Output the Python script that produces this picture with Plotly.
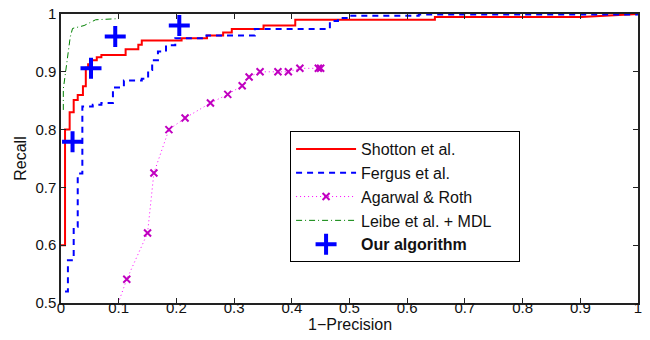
import plotly.graph_objects as go

# ---------------- data ----------------
# Shotton et al. : step curve, x where level starts, new recall level
shotton_x = [0, 0.007, 0.015, 0.022, 0.029, 0.038, 0.043, 0.047, 0.053, 0.062, 0.07,
             0.112, 0.134, 0.14, 0.209, 0.253, 0.281, 0.296, 0.351, 0.406, 0.648, 0.902]
shotton_y = [0.6, 0.8, 0.83, 0.851, 0.86, 0.875, 0.907, 0.913, 0.92, 0.925, 0.929,
             0.939, 0.947, 0.954, 0.958, 0.963, 0.968, 0.974, 0.98, 0.99, 0.995, 0.995]
shotton_end_x = [1.0]
shotton_end_y = [1.0]

# Fergus et al. : step curve
fergus_x = [0.007, 0.012, 0.022, 0.029, 0.037, 0.055, 0.07, 0.09, 0.109, 0.14, 0.151,
            0.158, 0.168, 0.182, 0.198, 0.252, 0.336, 0.466, 0.48, 0.5, 0.62, 1.0]
fergus_y = [0.52, 0.574, 0.632, 0.724, 0.84, 0.843, 0.846, 0.873, 0.885, 0.888, 0.903,
            0.92, 0.935, 0.946, 0.958, 0.963, 0.974, 0.988, 0.993, 0.997, 0.999, 1.0]

# Agarwal & Roth
agarwal_x = [0.092, 0.114, 0.150, 0.161, 0.187, 0.215, 0.259, 0.289, 0.314, 0.326,
             0.345, 0.376, 0.394, 0.414, 0.446, 0.450]
agarwal_y = [0.48, 0.541, 0.621, 0.725, 0.800, 0.820, 0.846, 0.861, 0.876, 0.891,
             0.900, 0.900, 0.900, 0.906, 0.906, 0.906]

# Leibe et al. + MDL
leibe_x = [0.004, 0.004, 0.008, 0.012, 0.016, 0.02, 0.03, 0.04, 0.05, 0.06, 0.1]
leibe_y = [0.834, 0.87, 0.9, 0.93, 0.96, 0.975, 0.977, 0.98, 0.985, 0.99, 0.992]

# Our algorithm
ours_x = [0.02, 0.052, 0.094, 0.205]
ours_y = [0.779, 0.906, 0.961, 0.980]

x_ticks = [0, 0.1, 0.2, 0.3, 0.4, 0.5, 0.6, 0.7, 0.8, 0.9, 1]
x_ticklabels = ["0", "0.1", "0.2", "0.3", "0.4", "0.5", "0.6", "0.7", "0.8", "0.9", "1"]
y_ticks = [0.5, 0.6, 0.7, 0.8, 0.9, 1]
y_ticklabels = ["0.5", "0.6", "0.7", "0.8", "0.9", "1"]
x_title = "1\u2212Precision"
y_title = "Recall"


def steps(xs, ys):
    px, py = [xs[0]], [ys[0]]
    for x, y in zip(xs[1:], ys[1:]):
        px += [x, x]
        py += [py[-1], y]
    return px, py


FONT = "Liberation Sans, Arial, Helvetica, sans-serif"

sx, sy = steps(shotton_x, shotton_y)
sx += shotton_end_x
sy += shotton_end_y
fx, fy = steps(fergus_x, fergus_y)

fig = go.Figure()
fig.add_trace(go.Scatter(x=sx, y=sy, mode="lines", name="Shotton et al.",
                         line=dict(color="#ff0000", width=2)))
fig.add_trace(go.Scatter(x=fx, y=fy, mode="lines", name="Fergus et al.",
                         line=dict(color="#0000ff", width=2, dash="6px,5px")))
fig.add_trace(go.Scatter(x=agarwal_x, y=agarwal_y, mode="lines+markers", name="Agarwal & Roth",
                         line=dict(color="#ff00ff", width=1, dash="1px,3px"),
                         marker=dict(symbol="x-thin", size=7, color="#c000c0",
                                     line=dict(color="#c000c0", width=2))))
fig.add_trace(go.Scatter(x=leibe_x, y=leibe_y, mode="lines",
                         name="Leibe et al. + MDL\u00a0\u00a0\u00a0\u00a0\u00a0",
                         line=dict(color="#008000", width=1, dash="6px,3px,1px,3px")))
fig.add_trace(go.Scatter(x=ours_x, y=ours_y, mode="markers", name="<b>Our algorithm</b>",
                         marker=dict(symbol="cross-thin", size=15, color="#0000ff",
                                     line=dict(color="#0000ff", width=4))))

axis_common = dict(showline=True, linecolor="#222222", linewidth=1.5, mirror="ticks",
                   ticks="inside", ticklen=5, tickcolor="#222222", tickwidth=1,
                   showgrid=False, zeroline=False, ticklabeloverflow="allow",
                   tickfont=dict(family=FONT, size=15, color="#111111"),
                   automargin=False)

fig.update_layout(
    width=650, height=340,
    margin=dict(l=61, r=12, t=14, b=37),
    paper_bgcolor="white", plot_bgcolor="white",
    font=dict(family=FONT, color="#111111"),
    xaxis=dict(range=[0, 1], tickvals=x_ticks, ticktext=x_ticklabels,
               ticklabelstandoff=-10, **axis_common),
    yaxis=dict(range=[0.5, 1], tickvals=y_ticks, ticktext=y_ticklabels,
               title=dict(text=y_title, font=dict(family=FONT, size=16), standoff=5),
               **axis_common),
    legend=dict(x=0.397, y=0.595, xanchor="left", yanchor="top",
                bgcolor="white", bordercolor="black", borderwidth=1,
                font=dict(family=FONT, size=16, color="#111111"),
                tracegroupgap=0, itemwidth=60),
    showlegend=True,
)

fig.add_annotation(text=x_title, xref="paper", yref="paper", x=0.5, y=-0.0727,
                   xanchor="center", yanchor="middle", showarrow=False,
                   font=dict(family=FONT, size=16, color="#111111"))

# remove the browser's default 8px body margin so the 650x340 figure fills the window
fig.write_html("out.html", config={"displayModeBar": False},
               post_script="document.body.style.margin='0px';")
